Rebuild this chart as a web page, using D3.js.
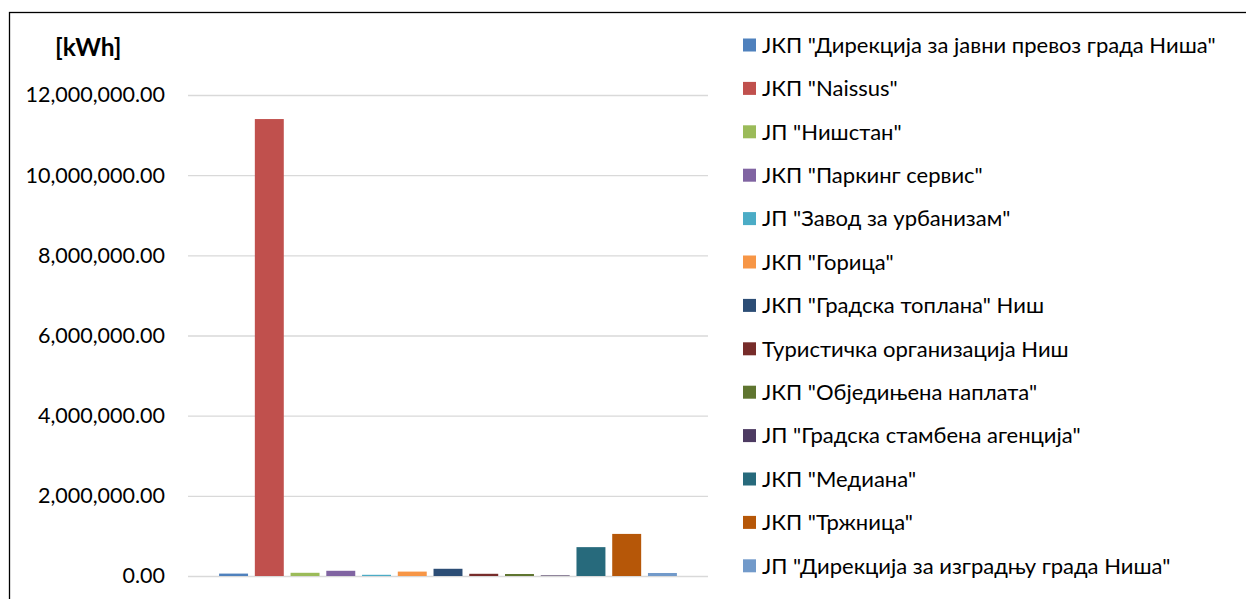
<!DOCTYPE html>
<html>
<head>
<meta charset="utf-8">
<script src="https://cdn.jsdelivr.net/npm/d3@7"></script>
<style>
  body { margin: 0; background: #fff; }
  svg { display: block; font-family: Lato, "Open Sans", sans-serif; }
</style>
</head>
<body>
<div id="chart"></div>
<script>
// companies (one bar each), values in kWh
var companies = [
  'ЈКП "Дирекција за јавни превоз града Ниша"',
  'ЈКП "Naissus"',
  'ЈП "Нишстан"',
  'ЈКП "Паркинг сервис"',
  'ЈП "Завод за урбанизам"',
  'ЈКП "Горица"',
  'ЈКП "Градска топлана" Ниш',
  'Туристичка организација Ниш',
  'ЈКП "Обједињена наплата"',
  'ЈП "Градска стамбена агенција"',
  'ЈКП "Медиана"',
  'ЈКП "Тржница"',
  'ЈП "Дирекција за изградњу града Ниша"'
];
var values = [60000, 11400000, 80000, 130000, 30000, 110000, 180000, 55000, 50000, 15000, 720000, 1050000, 75000];
var colors = ["#4F81BD", "#C0504D", "#9BBB59", "#8064A2", "#4BACC6", "#F79646", "#2C4D75",
              "#772C2A", "#5F7530", "#4D3B62", "#276A7C", "#B65708", "#729ACA"];
var yTicks = [0, 2000000, 4000000, 6000000, 8000000, 10000000, 12000000];
var unitLabel = "[kWh]";

var W = 1246, H = 599;
var plot = { left: 188, right: 708, top: 95, bottom: 576 };

var svg = d3.select("#chart").append("svg")
    .attr("width", W)
    .attr("height", H);

// outer frame
svg.append("rect")
    .attr("x", 9.5).attr("y", 12.5)
    .attr("width", W + 20).attr("height", H + 20)
    .attr("fill", "none")
    .attr("stroke", "#000")
    .attr("stroke-width", 1.3);

var x = d3.scaleBand()
    .domain(companies)
    .range([plot.left, plot.right])
    .paddingInner(0.19)
    .paddingOuter(0.87);

var y = d3.scaleLinear()
    .domain([0, 12000000])
    .range([plot.bottom, plot.top]);

var fmt = d3.format(",.2f");

// gridlines + tick labels
var yAxis = d3.axisLeft(y)
    .tickValues(yTicks)
    .tickSize(-(plot.right - plot.left))
    .tickPadding(23)
    .tickFormat(fmt);

var gy = svg.append("g")
    .attr("class", "y axis")
    .attr("transform", "translate(" + plot.left + ",0)")
    .call(yAxis)
    .attr("font-family", null)
    .attr("font-size", null);
gy.select(".domain").remove();
gy.selectAll("line").attr("stroke", "#d9d9d9").attr("stroke-width", 1.3);
gy.selectAll("text")
    .attr("fill", "#000")
    .style("font-size", "21.5px");

svg.append("text")
    .attr("x", 55)
    .attr("y", 56)
    .style("font-size", "24.5px")
    .style("font-weight", "bold")
    .text(unitLabel);

// bars
svg.append("g")
    .attr("class", "bars")
    .selectAll("rect")
    .data(companies)
    .enter().append("rect")
    .attr("x", function (d) { return x(d); })
    .attr("width", x.bandwidth())
    .attr("y", function (d, i) { return y(values[i]); })
    .attr("height", function (d, i) { return y(0) - y(values[i]); })
    .attr("fill", function (d, i) { return colors[i]; });

// legend
var legend = svg.append("g")
    .attr("class", "legend")
    .selectAll(".item")
    .data(companies)
    .enter().append("g")
    .attr("class", "item")
    .attr("transform", function (d, i) {
        return "translate(743," + (45 + i * 43.4) + ")";
    });
legend.append("rect")
    .attr("y", -6.5)
    .attr("width", 13)
    .attr("height", 13)
    .attr("fill", function (d, i) { return colors[i]; });
legend.append("text")
    .attr("x", 19)
    .attr("dy", "0.35em")
    .style("font-size", "22px")
    .text(function (d) { return d; });
</script>
</body>
</html>
